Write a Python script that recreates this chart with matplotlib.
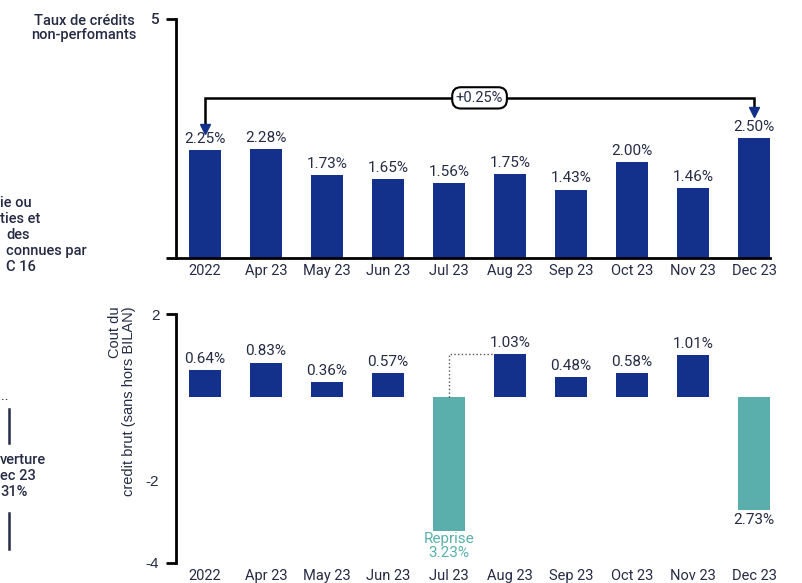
import matplotlib.pyplot as plt

# data
months = ['2022', 'Apr 23', 'May 23', 'Jun 23', 'Jul 23', 'Aug 23', 'Sep 23', 'Oct 23', 'Nov 23', 'Dec 23']
npl_rate = [2.25, 2.28, 1.73, 1.65, 1.56, 1.75, 1.43, 2.00, 1.46, 2.50]
cost_of_risk = [0.64, 0.83, 0.36, 0.57, -3.23, 1.03, 0.48, 0.58, 1.01, -2.73]
npl_change = '+0.25%'

navy = '#13308a'
teal = '#5aafad'
ink = '#262b45'
W, H = 802, 583

plt.rcParams['font.family'] = ['Roboto', 'DejaVu Sans']

fig = plt.figure(figsize=(W / 100, H / 100), dpi=100)
x = list(range(len(months)))


def px(xp, yp):
    return xp / W, 1 - yp / H


# ---- top panel: non-performing loans ----
ax1 = fig.add_axes([176 / W, 1 - 258 / H, 594 / W, 239 / H])
ax1.bar(x, npl_rate, width=0.52, color=navy)
for xi, v in zip(x, npl_rate):
    ax1.annotate(f'{v:.2f}%', (xi, v), xytext=(0, 3), textcoords='offset points',
                 ha='center', va='bottom', fontsize=11, color=ink)
ax1.set_xlim(-0.475, 9.26)
ax1.set_ylim(0, 5)
ax1.set_xticks(x)
ax1.set_xticklabels(months, fontsize=10.5, color=ink)
ax1.tick_params(axis='x', length=0, pad=4)
ax1.set_yticks([0, 5])
ax1.set_yticklabels(['', '5'], fontsize=11, color=ink, fontweight='medium')
ax1.tick_params(axis='y', length=7, width=2, pad=5)
for s in ['top', 'right']:
    ax1.spines[s].set_visible(False)
for s in ['left', 'bottom']:
    ax1.spines[s].set_linewidth(2)

# bracket showing change between 2022 and Dec 23
ax1.plot([0, 0, 9, 9], [2.72, 3.35, 3.35, 3.08], color='black', lw=1.8,
         solid_joinstyle='miter')
ax1.plot([0, 9], [2.70, 3.06], marker='v', color=navy, markersize=7, lw=0)
ax1.text(4.5, 3.35, npl_change, ha='center', va='center', fontsize=10.5, color=ink,
         bbox=dict(boxstyle='round,pad=0.25,rounding_size=0.6', fc='white', ec='black', lw=1.5))

fig.text(*px(84, 28), 'Taux de crédits\nnon-perfomants', ha='center', va='center',
         fontsize=10.5, color=ink, fontweight='medium', linespacing=1.05)

# ---- bottom panel: cost of risk ----
ax2 = fig.add_axes([176 / W, 1 - 563 / H, 594 / W, 249 / H])
colors = [teal if v < 0 else navy for v in cost_of_risk]
ax2.bar(x, cost_of_risk, width=0.52, color=colors)
for xi, v in zip(x, cost_of_risk):
    if v >= 0:
        ax2.annotate(f'{v:.2f}%', (xi, v), xytext=(0, 3), textcoords='offset points',
                     ha='center', va='bottom', fontsize=11, color=ink)
    elif months[xi] == 'Jul 23':
        ax2.annotate(f'Reprise\n{-v:.2f}%', (xi, v), xytext=(0, -1), textcoords='offset points',
                     ha='center', va='top', fontsize=11, color=teal, linespacing=0.95)
    else:
        ax2.annotate(f'{-v:.2f}%', (xi, v), xytext=(0, -2), textcoords='offset points',
                     ha='center', va='top', fontsize=11, color=ink)

# dotted connector from Jul to Aug
ax2.plot([4, 4, 4.74], [0, 1.03, 1.03], ls=':', color='#555555', lw=1)

ax2.set_xlim(-0.475, 9.26)
ax2.set_ylim(-4, 2)
ax2.set_xticks(x)
ax2.set_xticklabels(months, fontsize=10.5, color=ink)
ax2.tick_params(axis='x', length=0, pad=4)
ax2.set_yticks([2, -2, -4])
ax2.set_yticklabels(['2', '-2', '-4'], fontsize=11, color=ink, family='Liberation Sans')
ax2.tick_params(axis='y', length=7, width=2, pad=5)
ax2.yaxis.get_major_ticks()[1].tick1line.set_visible(False)
for s in ['top', 'right', 'bottom']:
    ax2.spines[s].set_visible(False)
ax2.spines['left'].set_linewidth(2)

fig.text(*px(122, 306), 'Cout du\ncredit brut (sans hors BILAN)', rotation=90,
         ha='center', va='top', multialignment='right', fontsize=10.5, color=ink,
         family='Liberation Sans', linespacing=1.0)

# ---- side notes on the left edge (cut off in the source) ----
side_top = [('ie ou', 0, 203), ('ties et', 0, 219), ('des', 6, 235),
            ('connues par', 6, 251), ('C 16', 6, 267)]
for t, xp, yp in side_top:
    fig.text(*px(xp, yp), t, ha='left', va='center', fontsize=10.5, color=ink,
             fontweight='medium')

side_bottom = [('verture', 0, 460), ('ec 23', 0, 476), ('31%', 0, 492)]
for t, xp, yp in side_bottom:
    fig.text(*px(xp, yp), t, ha='left', va='center', fontsize=10.5, color=ink,
             fontweight='medium')
fig.text(*px(1, 396), '..', ha='left', va='center', fontsize=10.5, color=ink)
fig.add_artist(plt.Line2D([9 / W, 9 / W], [1 - 409 / H, 1 - 443 / H], color=ink, lw=1.8))
fig.add_artist(plt.Line2D([9 / W, 9 / W], [1 - 513 / H, 1 - 549 / H], color=ink, lw=1.8))

fig.savefig('out.png', dpi=100)
